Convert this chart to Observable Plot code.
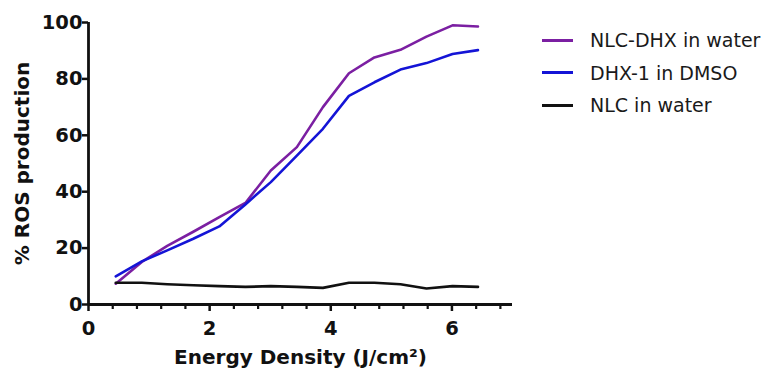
<!DOCTYPE html>
<html>
<head>
<meta charset="utf-8">
<script src="https://cdn.jsdelivr.net/npm/d3@7"></script>
<script src="https://cdn.jsdelivr.net/npm/@observablehq/plot@0.6"></script>
<style>
  html, body { margin: 0; padding: 0; background: #fff; }
  #wrap { position: relative; width: 782px; height: 372px; }
  #legend { position: absolute; left: 542px; top: 24px; font-family: "DejaVu Sans", sans-serif; font-size: 19px; color: #1a1a1a; }
  .item { display: flex; align-items: center; height: 32.5px; }
  .sw { width: 31px; height: 2.6px; margin-right: 17px; }
</style>
</head>
<body>
<div id="wrap"></div>
<script>
// Energy density (J/cm²)
const energy = [0.45, 0.88, 1.30, 1.73, 2.16, 2.59, 3.01, 3.44, 3.87, 4.30, 4.72, 5.15, 5.58, 6.01, 6.43];
// % ROS production per series
const nlcDhxWater = [7.4, 15.1, 20.8, 25.8, 31.0, 36.0, 47.5, 55.8, 70.0, 82.0, 87.6, 90.3, 95.0, 99.0, 98.6];
const dhx1Dmso    = [10.0, 15.3, 19.2, 23.3, 27.7, 35.5, 43.4, 52.8, 62.3, 74.0, 78.8, 83.3, 85.6, 88.8, 90.2];
const nlcWater    = [7.7, 7.7, 7.2, 6.8, 6.5, 6.25, 6.5, 6.25, 5.9, 7.7, 7.7, 7.2, 5.7, 6.5, 6.25];

const seriesNames = ["NLC-DHX in water", "DHX-1 in DMSO", "NLC in water"];
const seriesColors = ["#7b1fa2", "#1414d6", "#111111"];

const xMajorTicks = [0, 2, 4, 6];
const xMinorTicks = [0.4, 0.8, 1.2, 1.6, 2.4, 2.8, 3.2, 3.6, 4.4, 4.8, 5.2, 5.6, 6.4, 6.8];
const yTicks = [0, 20, 40, 60, 80, 100];
const xDomain = [0, 7];
const yDomain = [0, 100];

const xTitle = "Energy Density (J/cm²)";
const yTitle = "% ROS production";

const seriesValues = [nlcDhxWater, dhx1Dmso, nlcWater];
const data = seriesNames.flatMap((name, i) =>
  energy.map((e, j) => ({series: name, x: e, y: seriesValues[i][j]}))
);
const yAxisLine = [{x: xDomain[0], y1: yDomain[0], y2: yDomain[1]}];
const xAxisLine = [{y: yDomain[0], x1: xDomain[0], x2: xDomain[1]}];

const font = "DejaVu Sans, sans-serif";

const chart = Plot.plot({
  width: 782,
  height: 372,
  marginLeft: 88,
  marginRight: 270,
  marginTop: 22,
  marginBottom: 68,
  style: {fontFamily: font, color: "#111", background: "#fff"},
  x: {domain: xDomain},
  y: {domain: yDomain},
  color: {domain: seriesNames, range: seriesColors},
  marks: [
    Plot.axisX({ticks: xMinorTicks, tickSize: 5, text: null, strokeWidth: 2.2, label: null}),
    Plot.axisX({ticks: xMajorTicks, tickSize: 7, tickPadding: 10, tickFormat: d3.format("d"), fontSize: 19.5, fontWeight: "bold", strokeWidth: 2.5, label: null}),
    Plot.axisY({ticks: yTicks, tickSize: 6, tickPadding: 0, tickFormat: d3.format("d"), fontSize: 19.5, fontWeight: "bold", strokeWidth: 2.5, label: null}),
    Plot.ruleY(xAxisLine, {y: "y", x1: "x1", x2: "x2", strokeWidth: 2.8, stroke: "#111"}),
    Plot.ruleX(yAxisLine, {x: "x", y1: "y1", y2: "y2", strokeWidth: 2.8, stroke: "#111"}),
    Plot.line(data, {x: "x", y: "y", stroke: "series", strokeWidth: 2.6, curve: "linear"}),
    Plot.text([xTitle], {frameAnchor: "bottom", lineAnchor: "middle", dy: 53, fontSize: 20, fontWeight: "bold", fill: "#111"}),
    Plot.text([yTitle], {frameAnchor: "left", textAnchor: "middle", lineAnchor: "middle", rotate: -90, dx: -66, fontSize: 20, fontWeight: "bold", fill: "#111"})
  ]
});

const wrap = document.getElementById("wrap");
wrap.appendChild(chart);

const legend = document.createElement("div");
legend.id = "legend";
seriesNames.forEach((name, i) => {
  const item = document.createElement("div");
  item.className = "item";
  const sw = document.createElement("span");
  sw.className = "sw";
  sw.style.background = seriesColors[i];
  const label = document.createElement("span");
  label.textContent = name;
  item.appendChild(sw);
  item.appendChild(label);
  legend.appendChild(item);
});
wrap.appendChild(legend);
</script>
</body>
</html>
